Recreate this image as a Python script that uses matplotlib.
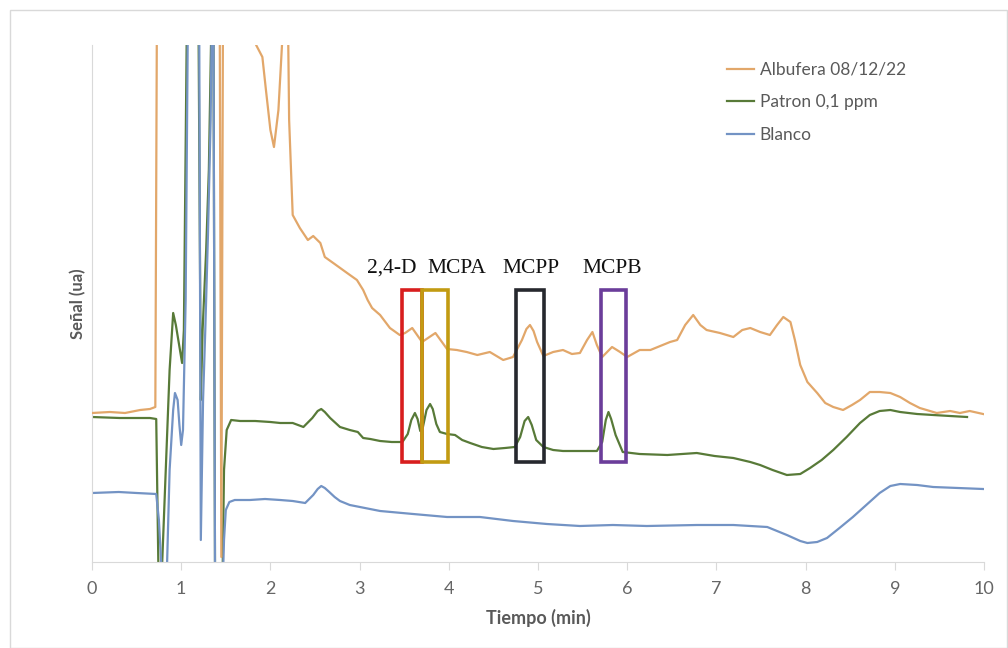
import matplotlib
matplotlib.use('Agg')
import matplotlib.pyplot as plt
from matplotlib.patches import Rectangle

# retention time (min) and signal (arbitrary units)
albufera_t = [0.00, 0.20, 0.37, 0.54, 0.65, 0.71, 0.73, 1.43, 1.45, 1.47, 1.80, 1.84, 1.91, 1.95,
              2.00, 2.04, 2.09, 2.13, 2.14, 2.19, 2.21, 2.25, 2.33, 2.42, 2.48, 2.56, 2.61, 2.72,
              2.86, 2.97, 3.04, 3.09, 3.14, 3.23, 3.34, 3.45, 3.51, 3.59, 3.70, 3.85, 3.98, 4.09,
              4.20, 4.32, 4.46, 4.61, 4.72, 4.82, 4.87, 4.91, 4.95, 4.99, 5.06, 5.17, 5.28, 5.38,
              5.47, 5.55, 5.61, 5.66, 5.72, 5.83, 5.92, 6.00, 6.14, 6.26, 6.37, 6.48, 6.56, 6.65,
              6.74, 6.82, 6.89, 7.04, 7.19, 7.29, 7.38, 7.49, 7.60, 7.68, 7.75, 7.83, 7.88, 7.94,
              8.02, 8.13, 8.22, 8.31, 8.42, 8.52, 8.61, 8.72, 8.83, 8.95, 9.06, 9.17, 9.28, 9.47,
              9.62, 9.73, 9.84, 9.99]
albufera_s = [149, 150, 149, 152, 153, 155, 600, 600, 5, 600, 600, 517, 505, 472,
              432, 415, 452, 517, 600, 600, 442, 347, 334, 322, 326, 319, 305, 298,
              289, 282, 272, 262, 254, 247, 234, 227, 229, 234, 220, 229, 213, 212,
              210, 207, 210, 202, 205, 222, 233, 237, 231, 220, 206, 210, 212, 208,
              209, 222, 230, 217, 205, 215, 210, 205, 212, 212, 216, 220, 222, 237,
              247, 237, 232, 229, 225, 232, 234, 230, 227, 237, 245, 240, 222, 197,
              180, 169, 159, 155, 152, 157, 162, 170, 170, 169, 165, 159, 154, 149,
              151, 149, 151, 148]

patron_t = [0.00, 0.31, 0.65, 0.72, 0.75, 0.77, 0.87, 0.91, 0.94, 1.01, 1.03, 1.07, 1.19, 1.22,
            1.24, 1.28, 1.31, 1.35, 1.36, 1.38, 1.46, 1.48, 1.51, 1.56, 1.66, 1.83, 2.00, 2.11,
            2.25, 2.37, 2.47, 2.53, 2.57, 2.61, 2.67, 2.78, 2.89, 2.98, 3.04, 3.12, 3.23, 3.36,
            3.48, 3.54, 3.58, 3.62, 3.65, 3.68, 3.71, 3.75, 3.79, 3.82, 3.86, 3.90, 3.98, 4.07,
            4.15, 4.24, 4.37, 4.50, 4.63, 4.74, 4.80, 4.85, 4.89, 4.93, 4.98, 5.06, 5.17, 5.28,
            5.47, 5.66, 5.72, 5.76, 5.79, 5.82, 5.87, 5.95, 6.14, 6.45, 6.78, 6.98, 7.19, 7.38,
            7.49, 7.63, 7.79, 7.94, 8.05, 8.18, 8.31, 8.46, 8.61, 8.72, 8.83, 8.95, 9.06, 9.25,
            9.43, 9.62, 9.81]
patron_s = [145, 144, 144, 143, -40, -40, 192, 249, 237, 199, 232, 600, 600, 162,
            232, 312, 392, 600, 600, -40, -40, 92, 132, 142, 141, 141, 140, 139,
            139, 135, 144, 151, 153, 150, 144, 135, 132, 130, 124, 123, 121, 120,
            120, 128, 142, 149, 143, 131, 135, 152, 158, 153, 138, 130, 128, 127,
            122, 119, 115, 113, 114, 115, 125, 141, 145, 137, 122, 115, 112, 111,
            111, 111, 120, 142, 150, 143, 127, 110, 108, 107, 109, 106, 104, 100,
            97, 92, 87, 88, 94, 102, 112, 125, 139, 147, 151, 152, 150, 148,
            147, 146, 145]

blanco_t = [0.00, 0.30, 0.50, 0.72, 0.75, 0.80, 0.83, 0.87, 0.91, 0.93, 0.96, 0.98, 1.00, 1.02,
            1.05, 1.08, 1.20, 1.22, 1.245, 1.27, 1.30, 1.33, 1.35, 1.36, 1.38, 1.46, 1.48, 1.50,
            1.54, 1.60, 1.77, 1.94, 2.11, 2.25, 2.39, 2.48, 2.53, 2.57, 2.61, 2.66, 2.72, 2.78,
            2.89, 3.06, 3.23, 3.60, 3.98, 4.35, 4.72, 5.10, 5.47, 5.84, 6.22, 6.78, 7.19, 7.57,
            7.79, 7.94, 8.02, 8.13, 8.24, 8.38, 8.53, 8.68, 8.83, 8.95, 9.06, 9.25, 9.43, 9.71,
            9.99]
blanco_s = [69, 70, 69, 68, 42, -40, -40, 92, 152, 169, 162, 137, 117, 132,
            262, 600, 600, 22, 162, 232, 327, 442, 600, 600, -40, -40, 22, 52,
            60, 62, 62, 63, 62, 61, 59, 67, 73, 76, 74, 70, 65, 61,
            57, 54, 51, 48, 45, 45, 41, 38, 36, 37, 36, 37, 37, 35,
            27, 21, 19, 20, 24, 34, 45, 57, 69, 76, 78, 77, 75, 74,
            73]

compounds = ['2,4-D', 'MCPA', 'MCPP', 'MCPB']
window_start = [3.475, 3.70, 4.75, 5.71]
window_end = [3.70, 3.99, 5.07, 5.99]
window_colors = ['#d81e1e', '#c29b12', '#26282e', '#6b3d9a']
label_x = [3.36, 4.09, 4.92, 5.83]

fig = plt.figure(figsize=(10.08, 6.48), dpi=100)
ax = fig.add_axes([92 / 1008, 86 / 648, 892 / 1008, 517 / 648])

ax.plot(albufera_t, albufera_s, color='#e2a76a', lw=1.6, label='Albufera 08/12/22', zorder=3)
ax.plot(patron_t, patron_s, color='#587a38', lw=1.6, label='Patron 0,1 ppm', zorder=2)
ax.plot(blanco_t, blanco_s, color='#7393c4', lw=1.6, label='Blanco', zorder=2.5)

for x0, x1, c in zip(window_start, window_end, window_colors):
    ax.add_patch(Rectangle((x0, 100), x1 - x0, 172, fill=False, edgecolor=c, lw=2.6, zorder=4))
for name, x in zip(compounds, label_x):
    ax.text(x, 284, name, ha='center', va='bottom', fontsize=15.5,
            family='Liberation Serif', color='#111111')

ax.set_xlim(0, 10)
ax.set_ylim(0, 517)
ax.set_xticks(range(0, 11))
ax.set_yticks([])
for side in ['top', 'right']:
    ax.spines[side].set_visible(False)
for side in ['left', 'bottom']:
    ax.spines[side].set_color('#d9d9d9')
ax.tick_params(axis='x', direction='out', length=6, color='#d9d9d9', labelsize=13,
               labelcolor='#666666', pad=8)
for lab in ax.get_xticklabels():
    lab.set_family('Lato')

ax.set_xlabel('Tiempo (min)', fontsize=13, fontweight='bold', family='Lato', color='#595959', labelpad=8)
ax.set_ylabel('Señal (ua)', fontsize=12, fontweight='bold', family='Lato', color='#595959', labelpad=4)

leg = ax.legend(loc='upper left', bbox_to_anchor=(0.694, 0.998), frameon=False,
                handlelength=1.6, handletextpad=0.3, labelspacing=0.95,
                prop={'family': 'Lato', 'size': 12.5})
for txt in leg.get_texts():
    txt.set_color('#595959')

fig.patches.append(Rectangle((10 / 1008, 0), 997 / 1008, 638 / 648, transform=fig.transFigure,
                             fill=False, edgecolor='#d9d9d9', lw=1))

fig.savefig('out.png', dpi=100)
